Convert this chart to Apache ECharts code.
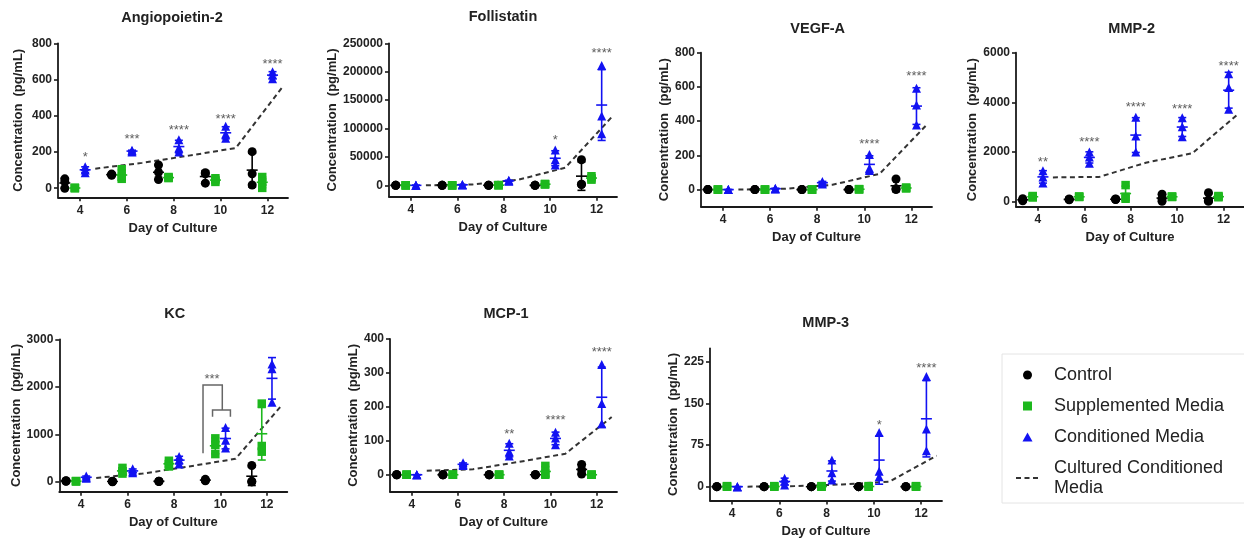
<!DOCTYPE html>
<html>
<head>
<meta charset="utf-8">
<script src="https://cdn.jsdelivr.net/npm/echarts@6/dist/echarts.min.js"></script>
<style>
  html, body { margin: 0; padding: 0; background: #ffffff; }
  #chart { width: 1244px; height: 539px; }
</style>
</head>
<body>
<div id="chart"></div>
<script>
// Sampling days and x-axis tick labels
const days = [4, 6, 8, 10, 12];
const dayTicks = [4, 6, 8, 10, 12];

// Angiopoietin-2 (pg/mL): three replicates per day
const angControl = [[52, 35, 0], [78, 72, 75], [128, 88, 48], [86, 80, 28], [202, 80, 18]];
const angSupp = [[3, 0, 1], [105, 62, 52], [62, 58, 56], [55, 45, 35], [62, 35, 2]];
const angCond = [[119, 100, 86], [210, 205, 200], [268, 222, 200], [342, 300, 276], [643, 625, 605]];
const angCultured = [108, 140, 180, 222, 560];
const angTicks = [0, 200, 400, 600, 800];
const angStars = [[4, 189, '*'], [6, 284, '***'], [8, 337, '****'], [10, 399, '****'], [12, 698, '****']];

// Follistatin
const folControl = [[0, 0, 0], [0, 0, 0], [300, 0, 0], [0, 0, 0], [45000, 2000, 1500]];
const folSupp = [[0, 0, 0], [0, 0, 0], [500, 300, 200], [2500, 2000, 1500], [16000, 12500, 10000]];
const folCond = [[0, 0, 0], [1500, 1000, 500], [9000, 8000, 7000], [62000, 45000, 36000], [211000, 122000, 91000]];
const folCultured = [0, 1500, 10000, 31000, 120000];
const folTicks = [0, 50000, 100000, 150000, 200000, 250000];
const folStars = [[10, 83700, '*'], [12, 238000, '****']];

// VEGF-A
const vegfControl = [[0, 0, 0], [0, 0, 0], [0, 0, 0], [0, 0, 0], [62, 5, 0]];
const vegfSupp = [[0, 0, 0], [0, 0, 0], [0, 0, 0], [3, 2, 1], [12, 9, 7]];
const vegfCond = [[0, 0, 0], [8, 5, 3], [48, 40, 33], [205, 125, 112], [592, 494, 378]];
const vegfCultured = [0, 5, 28, 92, 378];
const vegfTicks = [0, 200, 400, 600, 800];
const vegfStars = [[10, 284, '****'], [12, 676, '****']];

// MMP-2
const mmp2Control = [[120, 70, 40], [110, 90, 80], [110, 100, 90], [300, 120, 20], [360, 60, 20]];
const mmp2Supp = [[230, 200, 170], [210, 200, 190], [670, 200, 120], [210, 200, 190], [230, 200, 180]];
const mmp2Cond = [[1250, 1000, 750], [2000, 1800, 1550], [3400, 2650, 2000], [3380, 3020, 2620], [5150, 4600, 3720]];
const mmp2Cultured = [980, 1000, 1570, 1950, 3550];
const mmp2Ticks = [0, 2000, 4000, 6000];
const mmp2Stars = [[4, 1720, '**'], [6, 2510, '****'], [8, 3930, '****'], [10, 3850, '****'], [12, 5570, '****']];

// KC
const kcControl = [[25, 20, 30], [15, 10, 20], [20, 15, 20], [60, 40, 30], [350, 20, 5]];
const kcSupp = [[20, 25, 15], [300, 230, 180], [450, 380, 330], [920, 780, 590], [1650, 760, 640]];
const kcCond = [[130, 100, 80], [280, 230, 200], [540, 470, 380], [1150, 880, 720], [2480, 2380, 1680]];
const kcCultured = [90, 180, 330, 490, 1620];
const kcTicks = [0, 1000, 2000, 3000];
const kcStars = [];
// Day-10 comparison bracket: control vs. (supplemented + conditioned)
const kcBrackets = [
  [[9.25, 607], [9.25, 2040], [10.08, 2040], [10.08, 1516]],
  [[9.66, 1375], [9.66, 1516], [10.43, 1516], [10.43, 1375]]
];
const kcBracketLabel = [9.64, 2215, '***'];

// MCP-1
const mcpControl = [[0, 0, 0], [0, 0, 0], [0, 0, 0], [0, 0, 0], [30, 15, 2]];
const mcpSupp = [[0, 0, 0], [0, 0, 0], [0, 0, 0], [26, 3, 0], [0, 0, 0]];
const mcpCond = [[0, 0, 0], [35, 30, 27], [93, 68, 55], [125, 108, 88], [325, 210, 150]];
const mcpCultured = [12, 16, 38, 62, 170];
const mcpTicks = [0, 100, 200, 300, 400];
const mcpStars = [[8, 129, '**'], [10, 168, '****'], [12, 368, '****']];

// MMP-3
const mmp3Control = [[0, 0, 0], [0, 0, 0], [0, 0, 0], [0, 0, 0], [0, 0, 0]];
const mmp3Supp = [[1, 0, 0], [1, 0, 0], [1, 0, 0], [1, 0, 0], [1, 0, 0]];
const mmp3Cond = [[0, 0, 0], [15, 10, 3], [48, 25, 12], [98, 28, 18], [199, 104, 65]];
const mmp3Cultured = [0, 1, 4, 9, 56];
const mmp3Ticks = [0, 75, 150, 225];
const mmp3Stars = [[10, 116, '*'], [12, 219, '****']];

const FONT = '"Liberation Sans", Arial, Helvetica, sans-serif';
const INK = '#1a1a1a';
const X_MIN = 3.06, X_MAX = 12.88;

// Panel layout (pixel boxes of each plot area)
const panels = [
  { title: 'Angiopoietin-2', box: [58, 43.3, 230, 154], y: [-50, 800], ticks: angTicks, gap: 33, t: [172, 18],
    ctrl: angControl, supp: angSupp, cond: angCond, cult: angCultured, stars: angStars },
  { title: 'Follistatin', box: [389, 43.3, 228, 153.4], y: [-20000, 250000], ticks: folTicks, gap: 49, t: [503, 17],
    ctrl: folControl, supp: folSupp, cond: folCond, cult: folCultured, stars: folStars },
  { title: 'VEGF-A', box: [701, 52.7, 231, 154], y: [-100, 800], ticks: vegfTicks, gap: 29, t: [817.7, 29],
    ctrl: vegfControl, supp: vegfSupp, cond: vegfCond, cult: vegfCultured, stars: vegfStars },
  { title: 'MMP-2', box: [1016, 52.7, 229, 154], y: [-200, 6000], ticks: mmp2Ticks, gap: 35.5, t: [1131.7, 29],
    ctrl: mmp2Control, supp: mmp2Supp, cond: mmp2Cond, cult: mmp2Cultured, stars: mmp2Stars },
  { title: 'KC', box: [59.3, 339.3, 228, 152.4], y: [-200, 3000], ticks: kcTicks, gap: 35, t: [174.7, 314],
    ctrl: kcControl, supp: kcSupp, cond: kcCond, cult: kcCultured, stars: kcStars },
  { title: 'MCP-1', box: [390, 339, 227, 152.7], y: [-50, 400], ticks: mcpTicks, gap: 29.5, t: [506, 314],
    ctrl: mcpControl, supp: mcpSupp, cond: mcpCond, cult: mcpCultured, stars: mcpStars },
  { title: 'MMP-3', box: [710, 348.3, 232, 152.7], y: [-25, 250], ticks: mmp3Ticks, gap: 29.5, t: [825.7, 323],
    ctrl: mmp3Control, supp: mmp3Supp, cond: mmp3Cond, cult: mmp3Cultured, stars: mmp3Stars }
];

const groups = [
  { name: 'Control', key: 'ctrl', offset: -0.65, symbol: 'circle', size: 9, color: '#000000' },
  { name: 'Supplemented Media', key: 'supp', offset: -0.22, symbol: 'rect', size: 8.5, color: '#1db81d' },
  { name: 'Conditioned Media', key: 'cond', offset: 0.22, symbol: 'triangle', size: 9, color: '#1212f2' }
];
const CULT_OFFSET = 0.65;

const mean = a => a.reduce((s, v) => s + v, 0) / a.length;
const sd = a => {
  if (a.length < 2) return 0;
  const m = mean(a);
  return Math.sqrt(a.reduce((s, v) => s + (v - m) * (v - m), 0) / (a.length - 1));
};

// Mean line with SD whiskers and caps
function errorBarRenderer(color) {
  return function (params, api) {
    const x = api.value(0);
    const c = api.coord([x, api.value(1)]);
    const lo = api.coord([x, api.value(2)]);
    const hi = api.coord([x, api.value(3)]);
    const cap = 4, half = 5.5;
    const st = { stroke: color, lineWidth: 1.6 };
    return {
      type: 'group',
      children: [
        { type: 'line', shape: { x1: c[0], y1: lo[1], x2: c[0], y2: hi[1] }, style: st },
        { type: 'line', shape: { x1: c[0] - cap, y1: lo[1], x2: c[0] + cap, y2: lo[1] }, style: st },
        { type: 'line', shape: { x1: c[0] - cap, y1: hi[1], x2: c[0] + cap, y2: hi[1] }, style: st },
        { type: 'line', shape: { x1: c[0] - half, y1: c[1], x2: c[0] + half, y2: c[1] }, style: st }
      ]
    };
  };
}

const starLabel = {
  show: true, position: 'inside', formatter: '{b}', fontSize: 13,
  color: '#333', fontFamily: FONT, offset: [0, 3]
};

const grid = [], xAxis = [], yAxis = [], title = [], series = [];

panels.forEach((p, i) => {
  grid.push({ left: p.box[0], top: p.box[1], width: p.box[2], height: p.box[3] });
  title.push({
    text: p.title, left: p.t[0], top: p.t[1], padding: 0,
    textAlign: 'center', textVerticalAlign: 'middle',
    textStyle: { fontSize: 14.5, fontWeight: 'bold', color: '#222', fontFamily: FONT }
  });
  const axisLine = { show: true, onZero: false, lineStyle: { color: INK, width: 1.8 } };
  xAxis.push({
    type: 'value', gridIndex: i, min: X_MIN, max: X_MAX,
    axisLine: axisLine,
    axisTick: { show: true, customValues: dayTicks, length: 4, lineStyle: { color: INK, width: 1.6 } },
    axisLabel: { customValues: dayTicks, fontSize: 12, fontWeight: 'bold', color: '#222', margin: 7, fontFamily: FONT },
    splitLine: { show: false },
    name: 'Day of Culture', nameLocation: 'middle', nameGap: 24.5,
    nameTextStyle: { fontSize: 13, fontWeight: 'bold', color: '#222', fontFamily: FONT }
  });
  yAxis.push({
    type: 'value', gridIndex: i, min: p.y[0], max: p.y[1],
    axisLine: axisLine,
    axisTick: { show: true, customValues: p.ticks, length: 4, lineStyle: { color: INK, width: 1.6 } },
    axisLabel: { customValues: p.ticks, fontSize: 12, fontWeight: 'bold', color: '#222', margin: 6,
                 fontFamily: FONT, formatter: v => String(v) },
    splitLine: { show: false },
    name: 'Concentration  (pg/mL)', nameLocation: 'middle', nameRotate: 90, nameGap: p.gap,
    nameTextStyle: { fontSize: 13, fontWeight: 'bold', color: '#222', fontFamily: FONT }
  });

  // Cultured conditioned media trend
  series.push({
    type: 'line', name: 'Cultured Conditioned Media', xAxisIndex: i, yAxisIndex: i,
    data: p.cult.map((v, d) => [days[d] + CULT_OFFSET, v]),
    symbol: 'none', silent: true, z: 2,
    itemStyle: { color: '#333' },
    lineStyle: { color: '#333', width: 2, type: [5, 3.5] }
  });

  groups.forEach(g => {
    const reps = p[g.key];
    const pts = [];
    reps.forEach((r, d) => r.forEach(v => pts.push([days[d] + g.offset, v])));
    series.push({
      type: 'scatter', name: g.name, xAxisIndex: i, yAxisIndex: i,
      symbol: g.symbol, symbolSize: g.size, itemStyle: { color: g.color, opacity: 1 },
      data: pts, z: 3
    });
    series.push({
      type: 'custom', name: g.name + ' mean ± SD', xAxisIndex: i, yAxisIndex: i,
      renderItem: errorBarRenderer(g.color), silent: true, z: 4,
      encode: { x: 0, y: [1, 2, 3] },
      data: reps.map((r, d) => {
        const m = mean(r), s = sd(r);
        return [days[d] + g.offset, m, m - s, m + s];
      })
    });
  });

  if (p.stars.length) {
    series.push({
      type: 'scatter', name: 'significance', xAxisIndex: i, yAxisIndex: i,
      symbolSize: 1, itemStyle: { color: 'rgba(0,0,0,0)' }, silent: true, z: 5,
      data: p.stars.map(s => ({ value: [s[0] + 0.22, s[1]], name: s[2] })),
      label: starLabel
    });
  }
});

// KC comparison bracket and its label
series.push({
  type: 'lines', coordinateSystem: 'cartesian2d', xAxisIndex: 4, yAxisIndex: 4,
  polyline: true, silent: true, z: 5,
  lineStyle: { color: '#666', width: 1.5, opacity: 1 },
  data: kcBrackets.map(c => ({ coords: c }))
});
series.push({
  type: 'scatter', name: 'significance', xAxisIndex: 4, yAxisIndex: 4,
  symbolSize: 1, itemStyle: { color: 'rgba(0,0,0,0)' }, silent: true, z: 5,
  data: [{ value: [kcBracketLabel[0], kcBracketLabel[1]], name: kcBracketLabel[2] }],
  label: starLabel
});

const chart = echarts.init(document.getElementById('chart'), null, { renderer: 'canvas' });
chart.setOption({
  animation: false,
  backgroundColor: '#ffffff',
  textStyle: { fontFamily: FONT },
  title: title,
  grid: grid,
  xAxis: xAxis,
  yAxis: yAxis,
  legend: {
    data: [
      { name: 'Control' },
      { name: 'Supplemented Media', icon: 'path://M0,0H10V10H0Z' },
      { name: 'Conditioned Media', icon: 'path://M5,0L10,9H0Z' },
      { name: 'Cultured Conditioned Media', itemStyle: { opacity: 0 } }
    ],
    orient: 'vertical', left: 1002, top: 354,
    padding: [11, 21, 5, 13],
    borderColor: '#e4e4e4', borderWidth: 1, backgroundColor: '#ffffff',
    itemWidth: 23, itemHeight: 9, itemGap: 11,
    symbolKeepAspect: true,
    selectedMode: false,
    formatter: name => name === 'Cultured Conditioned Media'
      ? '  Cultured Conditioned\n  Media' : '  ' + name,
    textStyle: { fontSize: 18, color: '#222', lineHeight: 20, fontFamily: FONT }
  },
  series: series
});
</script>
</body>
</html>
